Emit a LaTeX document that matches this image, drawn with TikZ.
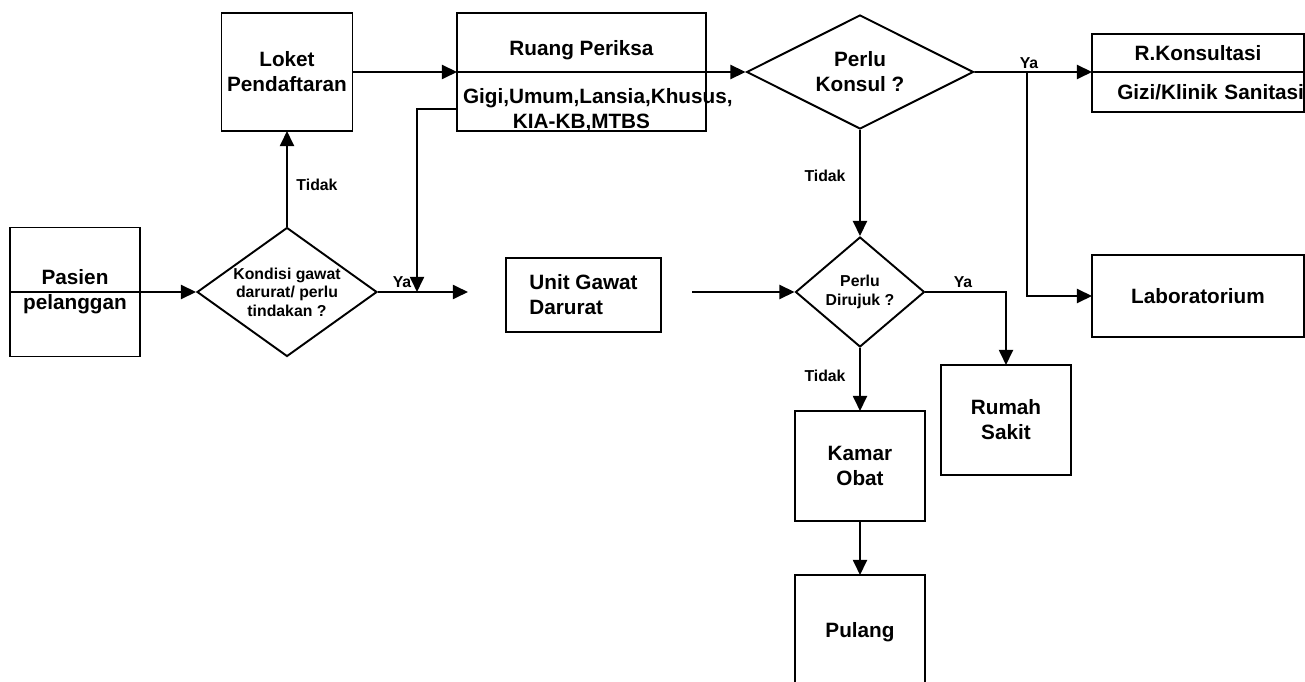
\documentclass[tikz,border=0pt]{standalone}
\usepackage{fontspec}
\setmainfont{Liberation Sans}
\usetikzlibrary{shapes.geometric, arrows.meta, positioning}

\newcommand{\bigtext}{\bfseries\fontsize{11.8}{14.2}\selectfont}
\newcommand{\smalltext}{\bfseries\fontsize{9}{10.6}\selectfont}
\newcommand{\tallstrut}{\rule{0pt}{17.8pt}}

\begin{document}
\begin{tikzpicture}[
    x=0.02cm, y=-0.02cm,
    process/.style={rectangle, draw, line width=1.1pt, inner sep=0pt, outer sep=0pt, align=center, font=\bigtext},
    decision/.style={diamond, draw, line width=1.1pt, inner sep=0pt, align=center},
    answer/.style={font=\smalltext, inner sep=0pt},
    arrow/.style={-{Triangle[length=8.6pt, width=8pt]}, line width=1.1pt}
]
\useasboundingbox (0,0) rectangle (1305,682);

\node[process, minimum width=2.6cm, minimum height=2.58cm] (pasien) at (75,292) {Pasien\\pelanggan};
\node[decision, aspect=1.4, minimum width=3.6cm, minimum height=2.58cm, font=\smalltext] (kondisi) at (287,292) {Kondisi gawat\\darurat/ perlu\\tindakan ?};
\node[process, minimum width=2.62cm, minimum height=2.36cm] (loket) at (287,72) {Loket\\Pendaftaran};
\node[process, minimum width=4.98cm, minimum height=1.18cm] (ruang) at (581.5,42.5) {\tallstrut Ruang Periksa};
\node[process, below=0pt of ruang, minimum width=4.98cm, minimum height=1.18cm, text width=4.98cm] (poli) {\tallstrut\hspace*{3.4pt}Gigi,Umum,Lansia,Khusus,\\KIA-KB,MTBS};
\node[decision, aspect=2, minimum width=4.54cm, minimum height=2.28cm, font=\bigtext] (konsul) at (860,72) {Perlu\\Konsul ?};
\node[process, minimum width=4.24cm, minimum height=0.76cm] (rkons) at (1198,53) {R.Konsultasi};
\node[process, below=0pt of rkons, minimum width=4.24cm, minimum height=0.8cm, text width=4.24cm, align=right] (gizi) {Gizi/Klinik Sanitasi};
\node[process, minimum width=3.1cm, minimum height=1.48cm, align=left] (ugd) at (583.5,295) {Unit Gawat\\Darurat};
\node[decision, aspect=1.17, minimum width=2.58cm, minimum height=2.2cm, font=\smalltext] (dirujuk) at (860,292) {Perlu\\Dirujuk ?};
\node[process, minimum width=4.24cm, minimum height=1.64cm] (lab) at (1198,296) {Laboratorium};
\node[process, minimum width=2.6cm, minimum height=2.2cm] (rs) at (1006,420) {Rumah\\Sakit};
\node[process, minimum width=2.6cm, minimum height=2.2cm] (kamar) at (860,466) {Kamar\\Obat};
\node[process, minimum width=2.6cm, minimum height=2.28cm] (pulang) at (860,632) {Pulang};

% Labels on the branches
\node[answer] (tidak1) at (317,185) {Tidak};
\node[answer] (ya1) at (402,282) {Ya};
\node[answer] (tidak2) at (825,176) {Tidak};
\node[answer] (ya2) at (1029,63) {Ya};
\node[answer] (ya3) at (963,282) {Ya};
\node[answer] (tidak3) at (825,376) {Tidak};

\coordinate (ugdin) at (468,292);
\coordinate (join) at (417,292);
\coordinate (ugdout) at (692,292);
\coordinate (branch) at (1027,72);

% Arrows
\draw[arrow] (pasien.west) -- (kondisi.west);
\draw[arrow] (kondisi.north) -- (loket.south);
\draw[arrow] (kondisi.east) -- (ugdin);
\draw[arrow] (loket.east) -- (ruang.south west);
\draw[arrow] (ruang.south west) -- (konsul.west);
\draw[arrow] ([yshift=-4.2pt]poli.west) -| (join);
\draw[arrow] (ugdout) -- (dirujuk.west);
\draw[arrow] (konsul.south) -- (dirujuk.north);
\draw[arrow] (konsul.east) -- (rkons.south west);
\draw[arrow] (branch) |- (lab.west);
\draw[arrow] (dirujuk.east) -| (rs.north);
\draw[arrow] (dirujuk.south) -- (kamar.north);
\draw[arrow] (kamar.south) -- (pulang.north);

\end{tikzpicture}
\end{document}
